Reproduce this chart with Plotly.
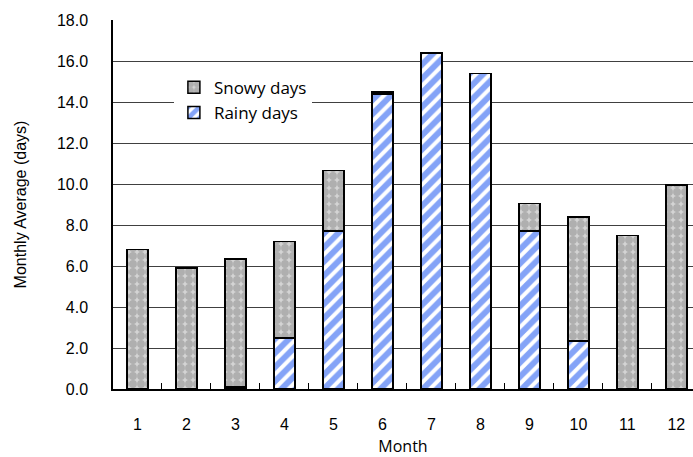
import plotly.graph_objects as go

months = ["1", "2", "3", "4", "5", "6", "7", "8", "9", "10", "11", "12"]
rainy = [0, 0, 0.1, 2.5, 7.7, 14.4, 16.4, 15.4, 7.7, 2.35, 0, 0]
snowy = [6.8, 5.9, 6.25, 4.7, 2.95, 0.1, 0, 0, 1.35, 6.05, 7.5, 9.95]


def hide_zero(vals):
    # empty bars would otherwise still draw a black outline on the axis
    return [v if v > 0 else None for v in vals]


fig = go.Figure()

# Rainy days at the bottom of each stack
fig.add_trace(go.Bar(
    x=months, y=hide_zero(rainy), name="Rainy days",
    marker=dict(
        color="white",
        line=dict(color="black", width=1.5),
        pattern=dict(shape="/", fgcolor="#0a48f0", bgcolor="white", size=10, solidity=0.6),
    ),
))

# Snowy days stacked on top
fig.add_trace(go.Bar(
    x=months, y=hide_zero(snowy), name="Snowy days",
    marker=dict(
        color="white",
        line=dict(color="black", width=1.5),
        pattern=dict(shape=".", fgcolor="#8a8a8a", bgcolor="#d4d4d4", size=8, solidity=0.75),
    ),
))

fig.update_layout(
    width=693, height=457,
    barmode="stack",
    bargap=0.57,
    plot_bgcolor="white",
    paper_bgcolor="white",
    margin=dict(l=113, r=0, t=20, b=68),
    font=dict(family="Liberation Sans, Arial", size=16, color="black"),
    legend=dict(
        x=0.105, y=0.865, xanchor="left", yanchor="top",
        traceorder="reversed",
        bgcolor="white",
        font=dict(family="Open Sans, Lato", size=17),
        itemwidth=30,
        tracegroupgap=2,
    ),
    xaxis=dict(
        title=dict(text="Month", standoff=14, font=dict(family="Open Sans, Lato", size=16)),
        range=[-0.5, 11.34],
        ticks="inside", tickson="boundaries", ticklen=6, tickcolor="black",
        showline=True, linecolor="black", linewidth=1.5,
        ticklabelstandoff=20,
        tickfont=dict(family="Liberation Sans, Arial", size=16),
    ),
    yaxis=dict(
        title=dict(text="Monthly Average (days)", font=dict(family="Liberation Sans, Arial", size=16), standoff=26),
        range=[0, 18], dtick=2, tickformat=".1f",
        showgrid=True, gridcolor="#404040", gridwidth=1,
        showline=True, linecolor="black", linewidth=1.5,
        ticklabelstandoff=20,
        tickfont=dict(family="Liberation Sans, Arial", size=16),
        zeroline=False,
    ),
)

fig.write_html("out.html", config={"displayModeBar": False},
               post_script="document.body.style.margin='0';")
